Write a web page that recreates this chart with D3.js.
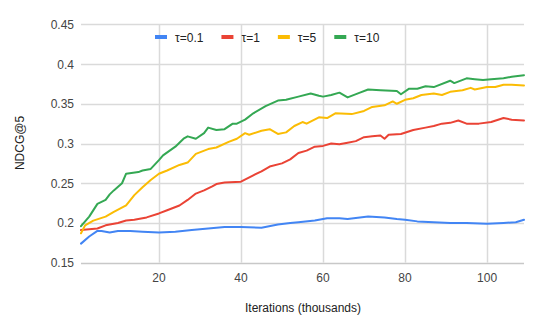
<!DOCTYPE html>
<html>
<head>
<meta charset="utf-8">
<script src="https://cdn.jsdelivr.net/npm/d3@7"></script>
<style>
  body { margin: 0; background: #fff; }
  svg { font-family: "Liberation Sans", Arial, sans-serif; }
</style>
</head>
<body>
<div id="chart"></div>
<script>
// series: [iteration (thousands), NDCG@5]
const tau01 = [[1,.174],[3,.183],[5,.19],[6,.19],[8,.188],[10,.19],[13,.19],[16,.189],[20,.188],[24,.189],[28,.191],[32,.193],[36,.195],[40,.195],[45,.194],[49,.198],[52,.2],[54,.201],[58,.203],[61,.206],[64,.206],[66,.205],[69,.207],[71,.208],[75,.207],[78,.205],[80,.204],[83,.202],[87,.201],[91,.2],[95,.2],[100,.199],[104,.2],[107,.201],[109,.204]];
const tau1 = [[1,.191],[3,.192],[5,.193],[7,.197],[10,.2],[12,.203],[14,.204],[17,.207],[20,.212],[22,.216],[25,.222],[27,.229],[29,.237],[31,.241],[33,.246],[34,.249],[36,.251],[40,.252],[43,.26],[45,.265],[47,.271],[50,.275],[52,.28],[54,.288],[56,.291],[58,.296],[60,.297],[62,.3],[64,.299],[66,.301],[68,.303],[70,.308],[72,.309],[74,.31],[75,.306],[76,.311],[79,.312],[82,.317],[85,.32],[87,.322],[89,.325],[91,.326],[93,.329],[95,.325],[98,.325],[101,.327],[104,.332],[106,.33],[109,.329]];
const tau5 = [[1,.187],[2,.197],[4,.203],[7,.208],[9,.214],[12,.222],[14,.235],[16,.245],[18,.254],[20,.262],[22,.266],[25,.273],[27,.276],[29,.287],[32,.293],[34,.295],[37,.302],[39,.306],[41,.313],[42,.311],[45,.316],[47,.318],[49,.312],[51,.314],[53,.322],[55,.327],[56,.325],[59,.333],[61,.332],[63,.338],[67,.337],[70,.341],[72,.346],[75,.348],[77,.353],[78,.35],[80,.355],[82,.357],[84,.361],[87,.363],[89,.361],[91,.365],[94,.367],[96,.37],[97,.368],[100,.371],[102,.371],[104,.374],[106,.374],[109,.373]];
const tau10 = [[1,.196],[3,.208],[5,.224],[7,.229],[8,.236],[9,.241],[11,.25],[12,.262],[15,.264],[16,.266],[18,.268],[20,.279],[21,.285],[24,.296],[26,.306],[27,.309],[29,.306],[31,.313],[32,.32],[34,.317],[36,.318],[38,.325],[39,.325],[41,.33],[43,.338],[46,.347],[49,.354],[51,.355],[54,.359],[57,.363],[59,.36],[60,.359],[62,.361],[64,.364],[66,.358],[69,.364],[71,.368],[74,.367],[78,.366],[79,.362],[81,.369],[83,.369],[85,.372],[87,.371],[91,.379],[92,.376],[95,.382],[97,.381],[99,.38],[101,.381],[104,.382],[106,.384],[109,.386]];

const seriesNames = ["τ=0.1", "τ=1", "τ=5", "τ=10"];
const seriesData = [tau01, tau1, tau5, tau10];
const colors = ["#4285F4", "#EA4335", "#FBBC04", "#34A853"];
const xTicks = [20, 40, 60, 80, 100];
const yTicks = [0.15, 0.2, 0.25, 0.3, 0.35, 0.4, 0.45];

const width = 540, height = 334;
const svg = d3.select("#chart").append("svg").attr("width", width).attr("height", height);

const x = d3.scaleLinear().domain([1, 109]).range([81, 524]);
const y = d3.scaleLinear().domain([0.15, 0.45]).range([262.7, 24.3]);

// gridlines
svg.append("g").selectAll("line").data(yTicks).enter().append("line")
  .attr("x1", x(1)).attr("x2", x(109))
  .attr("y1", d => Math.round(y(d)) + 0.5).attr("y2", d => Math.round(y(d)) + 0.5)
  .attr("stroke", d => d === 0.15 ? "#c8c8c8" : "#dadada").attr("stroke-width", 1.5);
svg.append("g").selectAll("line").data(xTicks).enter().append("line")
  .attr("x1", d => Math.round(x(d)) + 0.5).attr("x2", d => Math.round(x(d)) + 0.5)
  .attr("y1", y(0.45)).attr("y2", y(0.15))
  .attr("stroke", "#dadada").attr("stroke-width", 1.5);

// tick labels
svg.append("g").selectAll("text").data(yTicks).enter().append("text")
  .attr("x", 74).attr("y", d => y(d) + 4.5)
  .attr("text-anchor", "end").attr("font-size", 12).attr("fill", "#444")
  .text(d => d3.format("")(+d.toFixed(2)));
svg.append("g").selectAll("text").data(xTicks).enter().append("text")
  .attr("x", d => x(d)).attr("y", 281.5)
  .attr("text-anchor", "middle").attr("font-size", 12).attr("fill", "#444")
  .text(d => d);

// axis titles
svg.append("text").attr("transform", "translate(24,143) rotate(-90)")
  .attr("text-anchor", "middle").attr("font-size", 12).attr("fill", "#222")
  .text("NDCG@5");
svg.append("text").attr("x", 303).attr("y", 312)
  .attr("text-anchor", "middle").attr("font-size", 12).attr("fill", "#222")
  .text("Iterations (thousands)");

// lines
const line = d3.line().x(d => x(d[0])).y(d => y(d[1]));
seriesData.forEach((s, i) => {
  svg.append("path").datum(s)
    .attr("d", line).attr("fill", "none")
    .attr("stroke", colors[i]).attr("stroke-width", 2)
    .attr("stroke-linejoin", "round").attr("stroke-linecap", "round");
});

// legend
const legend = svg.append("g");
let lx = 155;
seriesNames.forEach((name, i) => {
  legend.append("rect").attr("x", lx).attr("y", 35).attr("width", 12).attr("height", 4)
    .attr("fill", colors[i]);
  const t = legend.append("text").attr("x", lx + 20).attr("y", 41.5)
    .attr("font-size", 12).attr("fill", "#222").text(name);
  lx += 20 + t.node().getComputedTextLength() + 18;
});
</script>
</body>
</html>
